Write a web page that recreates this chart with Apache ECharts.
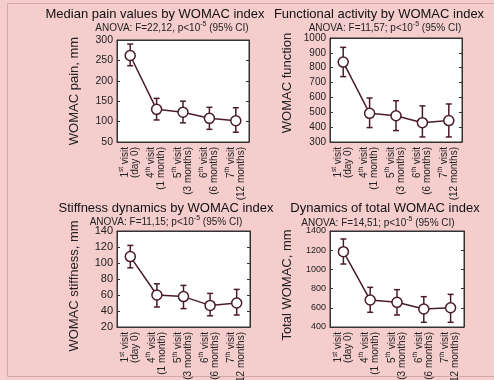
<!DOCTYPE html>
<html>
<head>
<meta charset="utf-8">
<script src="https://cdn.jsdelivr.net/npm/echarts@6/dist/echarts.min.js"></script>
<style>
  html, body { margin: 0; padding: 0; background: #f5cdcd; }
  #chart { width: 494px; height: 380px; }
</style>
</head>
<body>
<div id="chart"></div>
<script>
// visits (x categories)
var visits = ['1st visit (day 0)', '4th visit (1 month)', '5th visit (3 months)', '6th visit (6 months)', '7th visit (12 months)'];
var visitLabels = ['1{s|st} visit\n(day 0)', '4{s|th} visit\n(1 month)', '5{s|th} visit\n(3 months)', '6{s|th} visit\n(6 months)', '7{s|th} visit\n(12 months)'];

// WOMAC pain, mm: median and 95% CI
var painMed = [262, 130, 123, 108, 102];
var painLow = [237, 104, 97, 81, 74];
var painHigh = [290, 157, 150, 135, 134];

// WOMAC function
var funcMed = [838, 493, 477, 430, 444];
var funcLow = [740, 397, 377, 334, 334];
var funcHigh = [937, 596, 578, 543, 556];

// WOMAC stiffness, mm
var stiffMed = [108, 60, 58, 47, 50];
var stiffLow = [94, 45, 43, 34, 35];
var stiffHigh = [122, 74, 72, 62, 67];

// total WOMAC, mm
var totalMed = [1185, 681, 657, 587, 601];
var totalLow = [1056, 553, 525, 449, 449];
var totalHigh = [1317, 813, 789, 716, 740];

var titles = ['Median pain values by WOMAC index', 'Functional activity by WOMAC index',
  'Stiffness dynamics by WOMAC index', 'Dynamics of total WOMAC index'];
var subtitles = ['ANOVA: F=22,12, p<10{s|-5} (95% CI)', 'ANOVA: F=11,57; p<10{s|-5} (95% CI)',
  'ANOVA: F=11,15; p<10{s|-5} (95% CI)', 'ANOVA: F=14,51; p<10{s|-5} (95% CI)'];
var yNames = ['WOMAC pain, mm', 'WOMAC function', 'WOMAC stiffness, mm', 'Total WOMAC, mm'];

var panels = [
  {med: painMed, low: painLow, high: painHigh, min: 50, max: 300, step: 50},
  {med: funcMed, low: funcLow, high: funcHigh, min: 300, max: 1000, step: 100},
  {med: stiffMed, low: stiffLow, high: stiffHigh, min: 20, max: 140, step: 20},
  {med: totalMed, low: totalLow, high: totalHigh, min: 400, max: 1400, step: 200}
];

// layout
var grids = [
  {left: 117, top: 40, width: 132, height: 102},
  {left: 330, top: 38, width: 132, height: 104},
  {left: 117, top: 231, width: 133, height: 96},
  {left: 330, top: 231, width: 134, height: 96}
];
var titlePos = [[155, 14], [379, 14], [166, 208], [385, 208]];
var subPos = [[172, 28], [385, 28], [166, 222], [378, 223]];
var yFont = [10.5, 10, 11, 9];
var namePad = [[0, 0, 0, 0], [0, 0, 0, 14], [0, 14, 0, 0], [0, 12, 0, 0]];

var ink = '#4a1c2b';
var font = '"Liberation Sans", Arial, sans-serif';
var supStyle = {fontSize: 7, verticalAlign: 'top', height: 3, fontFamily: font, color: '#222'};

var chart = echarts.init(document.getElementById('chart'));

var xAxes = [], yAxes = [], series = [], graphic = [];

panels.forEach(function (p, i) {
  xAxes.push({
    gridIndex: i,
    type: 'category',
    data: visits,
    axisLine: {lineStyle: {color: '#333', width: 1}},
    axisTick: {inside: true, length: 3, alignWithLabel: true, lineStyle: {color: '#333'}},
    axisLabel: {
      interval: 0,
      rotate: 90,
      margin: 5,
      fontSize: 10,
      lineHeight: 10,
      color: '#222',
      fontFamily: font,
      formatter: function (v, idx) { return visitLabels[idx]; },
      rich: {s: {fontSize: 6.5, verticalAlign: 'top', height: 3, lineHeight: 10, fontFamily: font, color: '#222'}}
    }
  });
  xAxes.push({
    gridIndex: i,
    type: 'category',
    position: 'top',
    data: visits,
    axisLine: {lineStyle: {color: '#333', width: 1}},
    axisTick: {inside: true, length: 3, alignWithLabel: true, lineStyle: {color: '#333'}},
    axisLabel: {show: false}
  });
  yAxes.push({
    gridIndex: i,
    type: 'value',
    min: p.min,
    max: p.max,
    interval: p.step,
    name: yNames[i],
    nameLocation: 'middle',
    nameGap: 36,
    nameTextStyle: {fontSize: 13, color: '#222', fontFamily: font, padding: namePad[i]},
    axisLine: {show: true, lineStyle: {color: '#333', width: 1}},
    axisTick: {show: true, inside: true, length: 3, lineStyle: {color: '#333'}},
    axisLabel: {margin: 4, fontSize: yFont[i], color: '#222', fontFamily: font,
      formatter: function (v) { return String(v); }},
    splitLine: {show: false}
  });
  yAxes.push({
    gridIndex: i,
    type: 'value',
    position: 'right',
    min: p.min,
    max: p.max,
    interval: p.step,
    axisLine: {show: true, lineStyle: {color: '#333', width: 1}},
    axisTick: {show: true, inside: true, length: 3, lineStyle: {color: '#333'}},
    axisLabel: {show: false},
    splitLine: {show: false}
  });

  var ci = p.med.map(function (m, k) { return [k, p.low[k], p.high[k]]; });
  series.push({
    type: 'custom',
    xAxisIndex: 2 * i,
    yAxisIndex: 2 * i,
    data: ci,
    encode: {x: 0, y: [1, 2]},
    z: 2,
    silent: true,
    renderItem: function (params, api) {
      var lo = api.coord([api.value(0), api.value(1)]);
      var hi = api.coord([api.value(0), api.value(2)]);
      var w = 3;
      var st = {stroke: ink, lineWidth: 1.5};
      return {
        type: 'group',
        children: [
          {type: 'line', shape: {x1: lo[0], y1: lo[1], x2: hi[0], y2: hi[1]}, style: st},
          {type: 'line', shape: {x1: lo[0] - w, y1: lo[1], x2: lo[0] + w, y2: lo[1]}, style: st},
          {type: 'line', shape: {x1: hi[0] - w, y1: hi[1], x2: hi[0] + w, y2: hi[1]}, style: st}
        ]
      };
    }
  });
  series.push({
    type: 'line',
    xAxisIndex: 2 * i,
    yAxisIndex: 2 * i,
    data: p.med,
    z: 3,
    symbol: 'circle',
    symbolSize: 10,
    showSymbol: true,
    lineStyle: {color: ink, width: 1.5},
    itemStyle: {color: '#fff', borderColor: ink, borderWidth: 1.5},
    animation: false
  });

  graphic.push({
    type: 'text',
    x: titlePos[i][0],
    y: titlePos[i][1],
    style: {text: titles[i], fontSize: 13, fontFamily: font, fill: '#111', align: 'center', verticalAlign: 'middle'}
  });
  graphic.push({
    type: 'text',
    x: subPos[i][0],
    y: subPos[i][1],
    style: {
      text: subtitles[i], fontSize: 10, fontFamily: font, fill: '#222', align: 'center', verticalAlign: 'middle',
      lineHeight: 10,
      rich: {s: supStyle}
    }
  });
});

graphic.push({
  type: 'rect',
  shape: {x: 7.5, y: 3.5, width: 492, height: 373},
  style: {fill: null, stroke: '#d3a8a8', lineWidth: 1},
  silent: true
});

chart.setOption({
  backgroundColor: '#f5cdcd',
  animation: false,
  grid: grids.map(function (g) {
    return {left: g.left, top: g.top, width: g.width, height: g.height, show: true,
      backgroundColor: '#fff', borderColor: '#333', borderWidth: 1, outerBoundsMode: 'none'};
  }),
  xAxis: xAxes,
  yAxis: yAxes,
  series: series,
  graphic: graphic
});
</script>
</body>
</html>
